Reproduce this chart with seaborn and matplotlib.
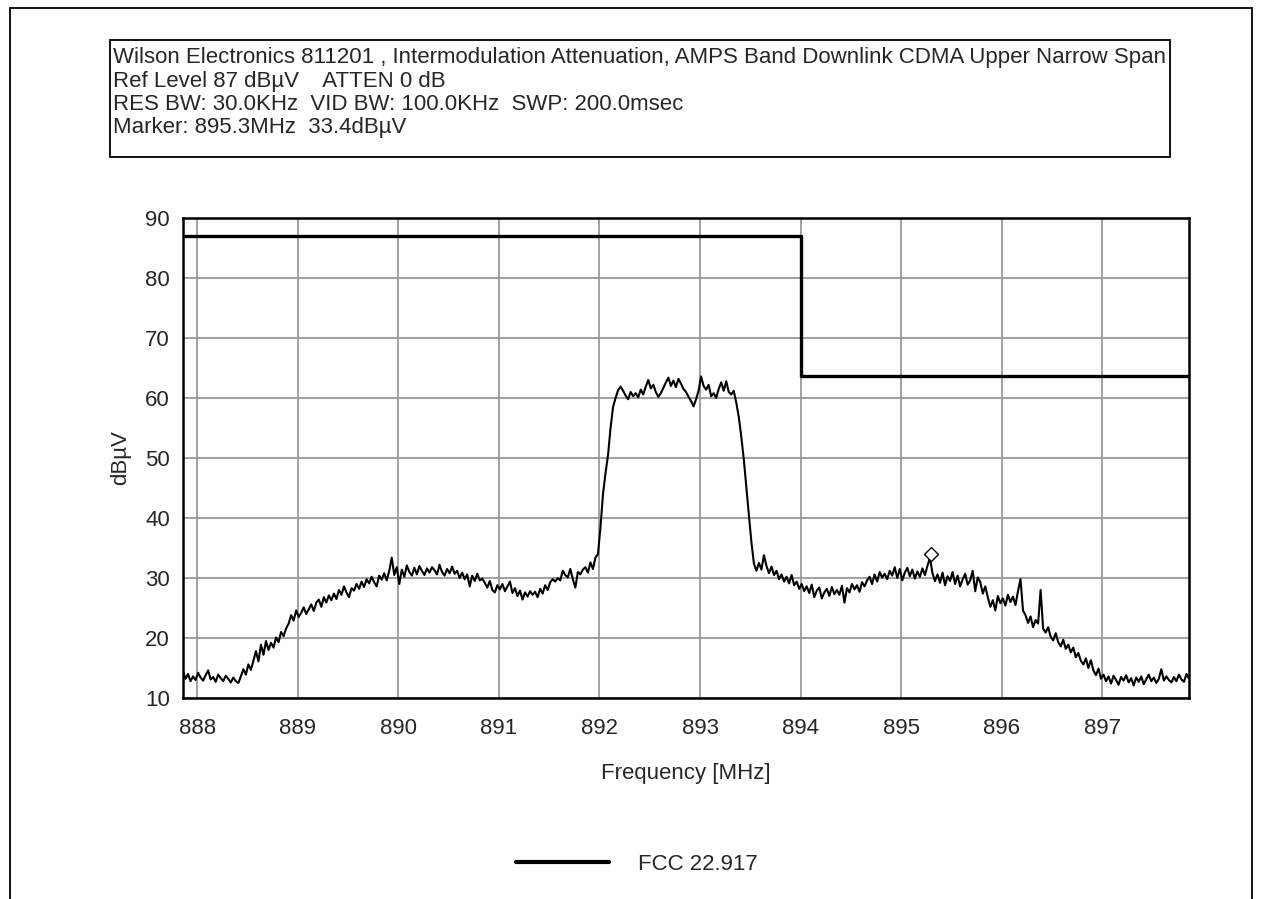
import numpy as np
import pandas as pd
import matplotlib
matplotlib.use("Agg")
import matplotlib.pyplot as plt
from matplotlib.patches import Rectangle
import seaborn as sns

# ---------------- data ----------------
F_START = 887.86   # MHz, left edge of the sweep
F_STOP = 897.86    # MHz, right edge of the sweep

level = [
    14.5, 13.2, 14.0, 12.8, 13.6, 13.0, 14.2, 13.4, 12.9, 13.8, 14.6, 13.1, 13.5, 12.7, 13.9, 13.3, 12.8, 13.7, 13.2, 12.6,
    13.4, 12.8, 12.5, 13.6, 14.8, 13.9, 15.6, 14.7, 16.2, 17.8, 16.1, 18.9, 17.2, 19.5, 18.0, 19.2, 18.4, 20.1, 19.3, 21.0,
    20.3, 21.6, 22.4, 23.8, 22.9, 24.6, 23.5, 24.2, 25.1, 24.0, 24.8, 25.6, 24.5, 25.9, 26.4, 25.2, 26.8, 25.9, 27.1, 26.3,
    27.4, 26.5, 28.0, 27.2, 28.6, 27.6, 26.8, 28.3, 27.9, 29.0, 28.2, 29.4, 28.5, 29.8, 29.1, 30.2, 29.3, 28.6, 30.4, 29.7,
    30.8, 29.6, 31.2, 33.4, 30.5, 31.8, 29.0, 31.4, 30.2, 32.1, 31.0, 30.4, 31.7, 30.6, 32.0, 31.2, 30.5, 31.6, 30.9, 31.8,
    31.3, 30.6, 32.2, 31.0, 30.4, 31.5, 30.8, 31.9, 30.7, 31.2, 30.0, 30.9, 29.8, 30.6, 28.6, 30.4, 29.5, 30.7, 29.6, 29.9,
    29.2, 28.4, 29.5, 28.0, 27.6, 28.8, 28.1, 29.0, 27.8, 28.6, 29.4, 27.5, 28.3, 27.0, 27.9, 26.4, 27.6, 26.9, 27.8, 27.2,
    27.7, 26.8, 28.2, 27.4, 28.8, 28.0, 29.3, 29.8, 29.4, 30.0, 29.6, 31.2, 30.5, 30.1, 31.5, 29.8, 28.4, 31.0, 30.6, 31.4,
    31.8, 30.9, 32.6, 31.5, 33.4, 34.0, 38.5, 44.0, 47.5, 50.5, 55.0, 58.5, 60.0, 61.3, 61.9, 61.2, 60.4, 59.8, 61.0, 60.3,
    60.8, 60.1, 61.4, 60.6, 61.9, 63.0, 61.6, 62.2, 61.0, 60.2, 60.8, 61.7, 62.6, 63.4, 62.0, 62.9, 61.8, 63.2, 62.4, 61.5,
    61.0, 60.2, 59.5, 58.6, 59.8, 61.2, 63.6, 62.0, 61.4, 62.2, 60.3, 60.8, 60.0, 61.5, 62.6, 61.2, 62.8, 61.0, 60.6, 61.2,
    59.2, 56.8, 53.5, 49.7, 45.0, 40.5, 36.0, 32.4, 31.2, 32.5, 31.4, 33.8, 32.0, 30.8, 31.9, 30.5, 31.2, 29.8, 30.6, 29.4,
    30.2, 29.1, 30.5, 28.8, 29.4, 28.2, 29.0, 27.8, 28.6, 27.5, 28.9, 26.8, 27.9, 28.4, 26.6, 27.6, 28.2, 27.0, 28.5, 27.3,
    28.0, 27.2, 28.7, 25.9, 28.3, 27.6, 29.0, 28.1, 28.8, 27.7, 29.3, 28.6, 29.6, 30.2, 29.0, 30.6, 29.4, 31.0, 30.1, 30.7,
    29.8, 31.2, 30.4, 31.8, 30.0, 31.5, 29.6, 30.9, 31.7, 30.3, 31.4, 29.9, 31.1, 30.2, 31.6, 30.5, 32.0, 33.4, 30.8, 29.5,
    30.6, 29.2, 30.9, 28.8, 30.3, 29.5, 31.0, 29.0, 30.4, 28.6, 29.8, 30.7, 28.9, 29.6, 31.2, 27.8, 30.1, 29.3, 27.4, 28.6,
    26.8, 25.2, 26.3, 24.6, 27.0, 25.8, 26.6, 25.4, 27.2, 26.0, 26.9, 25.5, 27.8, 29.8, 24.6, 23.8, 22.5, 23.6, 21.8, 23.0,
    22.4, 28.0, 21.6, 20.9, 21.8, 20.2, 19.6, 20.8, 19.3, 18.6, 19.7, 18.2, 18.9, 17.6, 18.4, 16.8, 17.5, 16.2, 15.6, 16.6,
    15.0, 16.3, 14.6, 13.8, 14.9, 13.2, 13.9, 12.8, 13.6, 12.4, 13.7, 13.0, 12.2, 13.5, 12.9, 13.8, 12.6, 13.3, 12.1, 13.4,
    12.7, 13.6, 12.3, 13.1, 13.9, 12.8, 13.4, 12.5, 13.2, 14.8, 12.9, 13.6, 13.0, 12.6, 13.5, 12.8, 13.9, 13.1, 12.7, 14.0,
    13.2,
]

# FCC 22.917 limit line (step)
limit_freq = [887.86, 894.0, 897.86]
limit_level = [87.0, 63.6, 63.6]
limit_label = "FCC 22.917"

marker_freq = 895.3
marker_level = 33.4

x_ticks = [888, 889, 890, 891, 892, 893, 894, 895, 896, 897]
y_ticks = [10, 20, 30, 40, 50, 60, 70, 80, 90]

header_lines = [
    "Wilson Electronics 811201 , Intermodulation Attenuation, AMPS Band Downlink CDMA Upper Narrow Span",
    "Ref Level 87 dBµV    ATTEN 0 dB",
    "RES BW: 30.0KHz  VID BW: 100.0KHz  SWP: 200.0msec",
    "Marker: 895.3MHz  33.4dBµV",
]

# ---------------- style ----------------
sns.set_style("white")
plt.rcParams["font.family"] = ["Liberation Sans", "DejaVu Sans"]

W, H = 1262, 899
fig = plt.figure(figsize=(W / 100, H / 100), dpi=100)
ax = fig.add_axes([183 / W, 1 - 698 / H, (1189 - 183) / W, (698 - 218) / H])

trace = pd.DataFrame({
    "freq": np.linspace(F_START, F_STOP, len(level)),
    "level": level,
})
limit = pd.DataFrame({"freq": limit_freq, "level": limit_level})

sns.lineplot(data=trace, x="freq", y="level", ax=ax, color="black",
             linewidth=1.5, estimator=None, sort=False, legend=False)
sns.lineplot(data=limit, x="freq", y="level", ax=ax, color="black",
             linewidth=2.4, drawstyle="steps-post", estimator=None,
             sort=False, label=limit_label)
ax.plot([marker_freq], [marker_level + 0.6], marker="D", markersize=7,
        markerfacecolor="white", markeredgecolor="black", markeredgewidth=1.0,
        linestyle="none")

ax.set_xlim(F_START, F_STOP)
ax.set_ylim(10, 90)
ax.set_xticks(x_ticks)
ax.set_yticks(y_ticks)
ax.set_xticks([t + 0.5 for t in x_ticks], minor=True)
ax.set_yticks([t + 5 for t in y_ticks[:-1]], minor=True)
ax.tick_params(axis="both", which="major", direction="inout", length=9,
               width=1.6, color="black", labelsize=16)
ax.tick_params(axis="x", which="major", pad=10)
ax.tick_params(axis="y", which="major", pad=5)
ax.tick_params(axis="both", which="minor", direction="inout", length=7,
               width=1.6, color="black")
ax.grid(True, which="major", color="#9a9a9a", linewidth=1.3)
for s in ax.spines.values():
    s.set_color("black")
    s.set_linewidth(1.8)

ax.set_xlabel("Frequency [MHz]", fontsize=16, labelpad=17)
ax.set_ylabel("dBµV", fontsize=16, labelpad=10)

leg = ax.legend(loc="center", bbox_to_anchor=(637 / W, 1 - 864 / H),
                bbox_transform=fig.transFigure, frameon=False, fontsize=16,
                handlelength=4.2, handletextpad=1.3)
for ln in leg.get_lines():
    ln.set_linewidth(3.0)

# header box
fig.patches.append(Rectangle((110 / W, 1 - 157 / H), (1170 - 110) / W, (157 - 40) / H,
                             transform=fig.transFigure, fill=False,
                             edgecolor="black", linewidth=1.3))
ys = [57, 81, 104, 127]
for txt, yy in zip(header_lines, ys):
    fig.text(113 / W, 1 - yy / H, txt, ha="left", va="center", fontsize=16)

# outer page frame
fig.patches.append(Rectangle((10 / W, -0.01), (1252 - 10) / W, 1 - 8 / H + 0.01,
                             transform=fig.transFigure, fill=False,
                             edgecolor="black", linewidth=1.3))

fig.savefig("out.png", dpi=100)
